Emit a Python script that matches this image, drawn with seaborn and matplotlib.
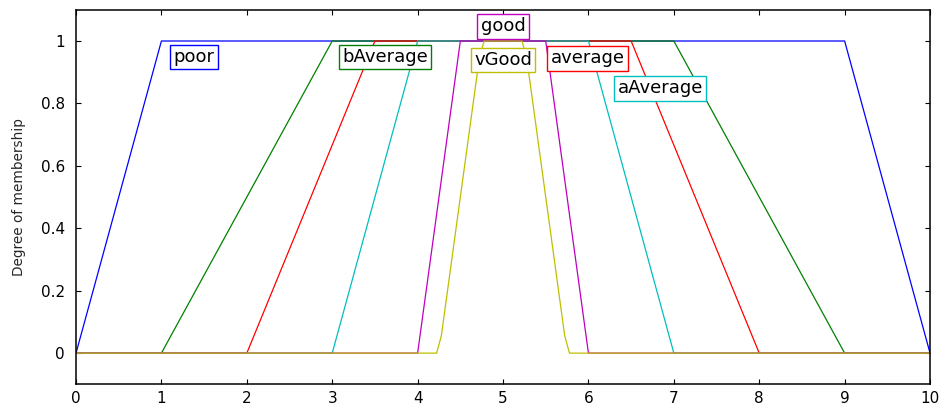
import numpy as np
import pandas as pd
import matplotlib
matplotlib.use("Agg")
import matplotlib.pyplot as plt
import seaborn as sns

# Membership functions over the input range [0, 10] (vertices of each curve)
names = ["poor", "bAverage", "average", "aAverage", "good", "vGood"]

poor_x = [0, 1, 9, 10]
poor_y = [0, 1, 1, 0]

baverage_x = [0, 1, 3, 7, 9, 10]
baverage_y = [0, 0, 1, 1, 0, 0]

average_x = [0, 2, 3.5, 6.5, 8, 10]
average_y = [0, 0, 1, 1, 0, 0]

aaverage_x = [0, 3, 4, 6, 7, 10]
aaverage_y = [0, 0, 1, 1, 0, 0]

good_x = [0, 4, 4.5, 5.5, 6, 10]
good_y = [0, 0, 1, 1, 0, 0]

vgood_x = [0, 4.222, 4.278, 4.722, 4.778, 5.222, 5.278, 5.722, 5.778, 10]
vgood_y = [0, 0, 0.056, 0.944, 1, 1, 0.944, 0.056, 0, 0]

colors = ["#0000ff", "#008000", "#ff0000", "#00bfbf", "#bf00bf", "#bfbf00"]

# Label positions (x, y) for the set names
label_x = [1.38, 3.62, 5.99, 6.84, 5.0, 5.0]
label_y = [0.949, 0.949, 0.944, 0.848, 1.047, 0.939]

xs = [poor_x, baverage_x, average_x, aaverage_x, good_x, vgood_x]
ys = [poor_y, baverage_y, average_y, aaverage_y, good_y, vgood_y]

frames = []
for n, x, y in zip(names, xs, ys):
    frames.append(pd.DataFrame({"x": x, "mu": y, "mf": n}))
df = pd.concat(frames, ignore_index=True)

sns.set_style("ticks")
plt.rcParams["font.family"] = ["DejaVu Sans"]

fig = plt.figure(figsize=(9.42, 4.08), dpi=100)
ax = fig.add_axes([0.0807, 0.058, 0.9066, 0.918])

sns.lineplot(data=df, x="x", y="mu", hue="mf", hue_order=names,
             palette=colors, estimator=None, sort=False, lw=0.9,
             legend=False, ax=ax)

for n, c, tx, ty in zip(names, colors, label_x, label_y):
    ax.text(tx, ty, n, ha="center", va="center", fontsize=13, color="black",
            bbox=dict(boxstyle="square,pad=0.18", fc="white", ec=c, lw=1.0),
            zorder=5)

ax.set_xlim(0, 10)
ax.set_ylim(-0.1, 1.1)
ax.set_xticks(np.arange(0, 11, 1))
ax.set_yticks([0, 0.2, 0.4, 0.6, 0.8, 1])
ax.set_yticklabels(["0", "0.2", "0.4", "0.6", "0.8", "1"])
ax.set_xlabel("")
ax.set_ylabel("Degree of membership", fontsize=9.8)
ax.yaxis.set_label_coords(-0.058, 0.5)

for s in ax.spines.values():
    s.set_visible(True)
    s.set_color("black")
    s.set_linewidth(1.1)

ax.tick_params(axis="both", direction="in", length=3.5, width=0.8,
               colors="black", labelsize=11, top=True, right=True)
ax.tick_params(axis="y", pad=8)
ax.tick_params(axis="x", pad=5)

fig.savefig("out.png", dpi=100)
